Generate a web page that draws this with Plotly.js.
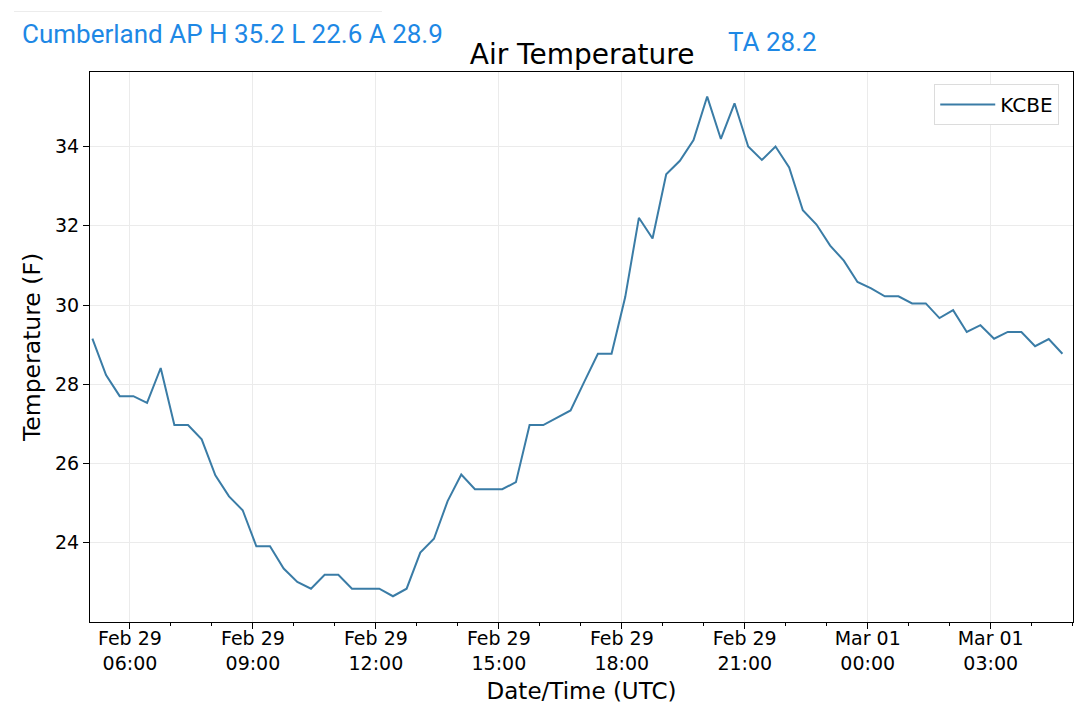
<!DOCTYPE html>
<html>
<head>
<meta charset="utf-8">
<script src="https://cdn.plot.ly/plotly-3.0.1.min.js"></script>
<style>html,body{margin:0;padding:0;background:#fff;}#chart{width:1080px;height:709px;}</style>
</head>
<body>
<div id="chart"></div>
<script>
const times = [
 '2020-02-29 05:05','2020-02-29 05:25','2020-02-29 05:45',
 '2020-02-29 06:05','2020-02-29 06:25','2020-02-29 06:45',
 '2020-02-29 07:05','2020-02-29 07:25','2020-02-29 07:45',
 '2020-02-29 08:05','2020-02-29 08:25','2020-02-29 08:45',
 '2020-02-29 09:05','2020-02-29 09:25','2020-02-29 09:45',
 '2020-02-29 10:05','2020-02-29 10:25','2020-02-29 10:45',
 '2020-02-29 11:05','2020-02-29 11:25','2020-02-29 11:45',
 '2020-02-29 12:05','2020-02-29 12:25','2020-02-29 12:45',
 '2020-02-29 13:05','2020-02-29 13:25','2020-02-29 13:45',
 '2020-02-29 14:05','2020-02-29 14:25','2020-02-29 14:45',
 '2020-02-29 15:05','2020-02-29 15:25','2020-02-29 15:45',
 '2020-02-29 16:05','2020-02-29 16:25','2020-02-29 16:45',
 '2020-02-29 17:05','2020-02-29 17:25','2020-02-29 17:45',
 '2020-02-29 18:05','2020-02-29 18:25','2020-02-29 18:45',
 '2020-02-29 19:05','2020-02-29 19:25','2020-02-29 19:45',
 '2020-02-29 20:05','2020-02-29 20:25','2020-02-29 20:45',
 '2020-02-29 21:05','2020-02-29 21:25','2020-02-29 21:45',
 '2020-02-29 22:05','2020-02-29 22:25','2020-02-29 22:45',
 '2020-02-29 23:05','2020-02-29 23:25','2020-02-29 23:45',
 '2020-03-01 00:05','2020-03-01 00:25','2020-03-01 00:45',
 '2020-03-01 01:05','2020-03-01 01:25','2020-03-01 01:45',
 '2020-03-01 02:05','2020-03-01 02:25','2020-03-01 02:45',
 '2020-03-01 03:05','2020-03-01 03:25','2020-03-01 03:45',
 '2020-03-01 04:05','2020-03-01 04:25','2020-03-01 04:45'
];
const temps = [
 29.15,28.23,27.70, 27.70,27.53,28.41, 26.97,26.97,26.61, 25.70,25.17,24.82,
 23.91,23.91,23.35, 23.01,22.84,23.19, 23.19,22.84,22.84, 22.84,22.65,22.84,
 23.75,24.10,25.05, 25.72,25.35,25.35, 25.35,25.53,26.97, 26.97,27.16,27.34,
 28.06,28.77,28.77, 30.20,32.20,31.68, 33.30,33.64,34.16, 35.26,34.19,35.09,
 34.00,33.66,34.00, 33.47,32.39,32.03, 31.50,31.12,30.58, 30.42,30.22,30.22,
 30.04,30.04,29.67, 29.87,29.32,29.49, 29.15,29.32,29.32, 28.96,29.14,28.77
];
const seriesName = 'KCBE';
const tickVals = ['2020-02-29 06:00','2020-02-29 09:00','2020-02-29 12:00','2020-02-29 15:00',
                  '2020-02-29 18:00','2020-02-29 21:00','2020-03-01 00:00','2020-03-01 03:00'];
const tickText = ['Feb 29<br>06:00','Feb 29<br>09:00','Feb 29<br>12:00','Feb 29<br>15:00',
                  'Feb 29<br>18:00','Feb 29<br>21:00','Mar 01<br>00:00','Mar 01<br>03:00'];
const yTicks = [24, 26, 28, 30, 32, 34];
const headerText = 'Cumberland AP H 35.2 L 22.6 A 28.9';
const taText = 'TA 28.2';
const titleText = 'Air Temperature';

const FONT = 'DejaVu Sans, sans-serif';
const trace = {
  x: times, y: temps, type: 'scatter', mode: 'lines', name: seriesName,
  line: {color: '#3a7ca6', width: 2}
};
const layout = {
  width: 1080, height: 709,
  margin: {l: 90, r: 7, t: 72, b: 87},
  paper_bgcolor: '#fff', plot_bgcolor: '#fff',
  font: {family: FONT, color: '#000', size: 19},
  title: {text: titleText, font: {family: FONT, size: 28, color: '#000'},
          x: 0.539, xanchor: 'center', y: 0.923, yanchor: 'middle'},
  showlegend: true,
  legend: {x: 0.986, xanchor: 'right', y: 0.978, yanchor: 'top',
           bgcolor: '#fff', bordercolor: '#dcdcdc', borderwidth: 1,
           itemwidth: 55,
           font: {family: FONT, size: 20, color: '#000'}},
  xaxis: {
    type: 'date', range: ['2020-02-29 05:01:30', '2020-03-01 05:00:30'],
    tickmode: 'array', tickvals: tickVals, ticktext: tickText,
    ticks: 'outside', ticklen: 6, tickwidth: 1, tickcolor: '#000',
    ticklabelstandoff: -7,
    showgrid: true, gridcolor: '#ebebeb', gridwidth: 1,
    showline: true, linecolor: '#000', linewidth: 1, mirror: true,
    zeroline: false,
    tickfont: {family: FONT, size: 19, color: '#000'},
    minor: {tickmode: 'linear', tick0: '2020-02-29 00:00', dtick: 3600000,
            ticks: 'outside', ticklen: 3, tickcolor: '#000', showgrid: false},
    title: {text: 'Date/Time (UTC)', font: {family: FONT, size: 23, color: '#000'}, standoff: 10}
  },
  yaxis: {
    range: [22.0, 35.88],
    tickmode: 'array', tickvals: yTicks,
    ticks: 'outside', ticklen: 6, tickwidth: 1, tickcolor: '#000',
    showgrid: true, gridcolor: '#ebebeb', gridwidth: 1,
    showline: true, linecolor: '#000', linewidth: 1, mirror: true,
    zeroline: false,
    tickfont: {family: FONT, size: 19, color: '#000'},
    title: {text: 'Temperature (F)', font: {family: FONT, size: 23.5, color: '#000'}, standoff: 7}
  },
  shapes: [{type: 'line', xref: 'paper', yref: 'paper', x0: -0.0773, x1: 0.297, y0: 1.110, y1: 1.110,
            line: {color: '#ececec', width: 1}}],
  annotations: [
    {text: headerText, xref: 'paper', yref: 'paper', x: -0.0712, y: 1.0685,
     xanchor: 'left', yanchor: 'middle', showarrow: false,
     font: {family: 'Roboto, sans-serif', size: 26, color: '#1e88e5'}},
    {text: taText, xref: 'paper', yref: 'paper', x: 0.647, y: 1.054,
     xanchor: 'left', yanchor: 'middle', showarrow: false,
     font: {family: 'Roboto, sans-serif', size: 26, color: '#1e88e5'}}
  ]
};
Plotly.newPlot('chart', [trace], layout, {displayModeBar: false, staticPlot: true});
</script>
</body>
</html>
